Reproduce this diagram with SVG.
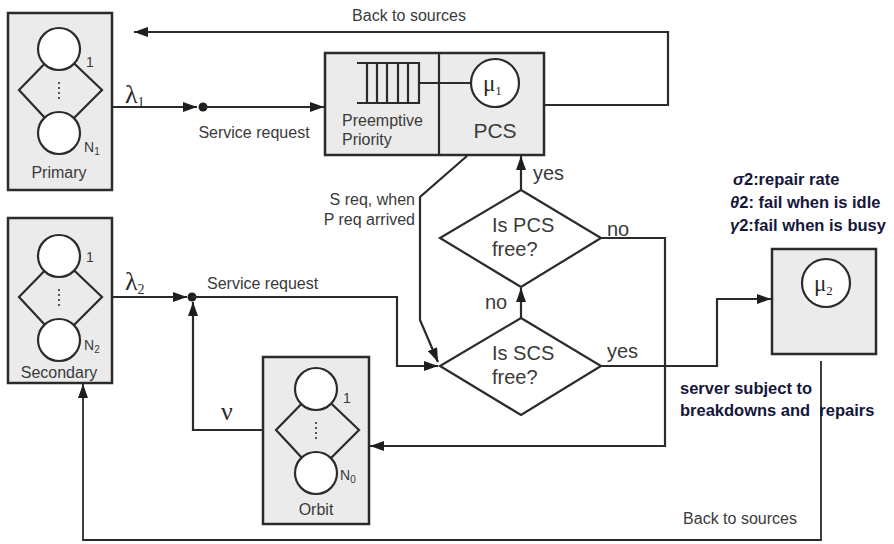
<svg xmlns="http://www.w3.org/2000/svg" width="894" height="544" viewBox="0 0 894 544">
  <defs>
    <style>
      .box { fill: #ebebeb; stroke: #2b2b2b; stroke-width: 2.5; }
      .ring { fill: #ffffff; stroke: #2b2b2b; stroke-width: 2.2; }
      .wire { fill: none; stroke: #2b2b2b; stroke-width: 2.2; }
      .thin { fill: none; stroke: #2b2b2b; stroke-width: 1.8; }
      .lbl { font-family: "Liberation Sans", Arial, sans-serif; fill: #3a3a3a; }
      .sm { font-size: 16px; }
      .md { font-size: 20px; }
      .greek { font-family: "Liberation Serif", "DejaVu Serif", serif; fill: #2b2b2b; }
      .note { font-family: "Liberation Sans", Arial, sans-serif; font-weight: bold; font-size: 16.5px; fill: #15173a; }
      .dots { stroke: #555; stroke-width: 2; stroke-dasharray: 2 3; }
    </style>
    <marker id="arr" viewBox="0 0 14 10" refX="14" refY="5" markerWidth="14" markerHeight="10" markerUnits="userSpaceOnUse" orient="auto">
      <path d="M0,0 L14,5 L0,10 z" fill="#1e1e1e"/>
    </marker>
    <!-- Population block: two customers joined by a diamond, with dots between -->
    <g id="pool">
      <path class="wire" d="M0,-41 L-40,0 L0,43 M0,-41 L43,0 L0,43"/>
      <circle class="ring" cx="0" cy="-41" r="21"/>
      <circle class="ring" cx="0" cy="43" r="21"/>
      <line class="dots" x1="0" y1="-8" x2="0" y2="12"/>
    </g>
  </defs>

  <rect width="894" height="544" fill="#ffffff"/>

  <!-- connectors -->
  <g id="connectors">
    <!-- primary arrivals -->
    <line class="wire" x1="112" y1="107" x2="197" y2="107" marker-end="url(#arr)"/>
    <circle cx="203" cy="107" r="4.5" fill="#1e1e1e"/>
    <line class="wire" x1="203" y1="107" x2="324" y2="107" marker-end="url(#arr)"/>
    <!-- PCS back to sources -->
    <polyline class="wire" points="544,105 668,105 668,32 134,32" marker-end="url(#arr)"/>
    <!-- secondary arrivals -->
    <line class="wire" x1="102" y1="297" x2="187" y2="297" marker-end="url(#arr)"/>
    <circle cx="192" cy="297" r="4.5" fill="#1e1e1e"/>
    <polyline class="wire" points="192,297 397,297 397,366 438,366" marker-end="url(#arr)"/>
    <!-- retrials from orbit -->
    <polyline class="wire" points="277,430 193,430 193,302" marker-end="url(#arr)"/>
    <!-- preempted S request -->
    <polyline class="wire" points="467,156 420,197 420,320 438,362" marker-end="url(#arr)"/>
    <!-- decision flow -->
    <line class="wire" x1="521" y1="318" x2="521" y2="288" marker-end="url(#arr)"/>
    <line class="wire" x1="521" y1="190" x2="521" y2="156" marker-end="url(#arr)"/>
    <polyline class="wire" points="601,238 665,238 665,446 370,446" marker-end="url(#arr)"/>
    <polyline class="wire" points="601,366 717,366 717,299 771,299" marker-end="url(#arr)"/>
    <!-- SCS back to sources -->
    <polyline class="thin" points="821,361 821,540 83,540 83,384" marker-end="url(#arr)"/>
  </g>

  <!-- primary sources -->
  <g id="primary">
    <rect class="box" x="8" y="13" width="104" height="177"/>
    <use href="#pool" x="59" y="90"/>
    <text class="lbl" x="86" y="67" font-size="14">1</text>
    <text class="lbl" x="84" y="152" font-size="14">N<tspan font-size="10" dy="3">1</tspan></text>
    <text class="lbl sm" x="59" y="178" text-anchor="middle">Primary</text>
  </g>

  <!-- secondary sources -->
  <g id="secondary">
    <rect class="box" x="8" y="218" width="104" height="165"/>
    <use href="#pool" x="59" y="297"/>
    <text class="lbl" x="86" y="262" font-size="14">1</text>
    <text class="lbl" x="84" y="350" font-size="14">N<tspan font-size="10" dy="3">2</tspan></text>
    <text class="lbl sm" x="59" y="378" text-anchor="middle">Secondary</text>
  </g>

  <!-- orbit -->
  <g id="orbit">
    <rect class="box" x="263" y="357" width="106" height="167"/>
    <use href="#pool" x="316" y="430"/>
    <text class="lbl" x="343" y="403" font-size="14">1</text>
    <text class="lbl" x="340" y="480" font-size="14">N<tspan font-size="10" dy="3">0</tspan></text>
    <text class="lbl sm" x="316" y="515" text-anchor="middle">Orbit</text>
  </g>

  <!-- primary service channel with preemptive queue -->
  <g id="pcs">
    <rect class="box" x="325" y="53" width="219" height="102"/>
    <line class="wire" x1="439" y1="53" x2="439" y2="155"/>
    <path class="wire" d="M357,63 H419 V103 H357 M367,63 V103 M377,63 V103 M387,63 V103 M398,63 V103 M408,63 V103"/>
    <line class="wire" x1="419" y1="83" x2="471" y2="83"/>
    <circle class="ring" cx="495" cy="83" r="24"/>
    <text class="greek" x="483" y="91" font-size="23">μ<tspan font-size="13" dy="4">1</tspan></text>
    <text class="lbl sm" x="342" y="126">Preemptive</text>
    <text class="lbl sm" x="342" y="145">Priority</text>
    <text class="lbl" x="495" y="138" font-size="21" text-anchor="middle">PCS</text>
  </g>

  <!-- secondary service channel -->
  <g id="scs">
    <rect class="box" x="772" y="249" width="104" height="105"/>
    <circle class="ring" cx="826" cy="283" r="24"/>
    <text class="greek" x="814" y="291" font-size="23">μ<tspan font-size="13" dy="4">2</tspan></text>
  </g>

  <!-- decisions -->
  <g id="pcs-free">
    <polygon class="wire" fill="#ffffff" points="521,190 601,238 521,287 440,238"/>
    <text class="lbl md" x="492" y="232">Is PCS</text>
    <text class="lbl md" x="492" y="256">free?</text>
  </g>
  <g id="scs-free">
    <polygon class="wire" fill="#ffffff" points="521,318 601,366 521,415 440,366"/>
    <text class="lbl md" x="492" y="360">Is SCS</text>
    <text class="lbl md" x="492" y="384">free?</text>
  </g>

  <!-- connector labels -->
  <g id="labels">
    <text class="lbl sm" x="409" y="21" text-anchor="middle">Back to sources</text>
    <text class="greek" x="125" y="103" font-size="26">λ<tspan font-size="14" dy="4">1</tspan></text>
    <text class="lbl sm" x="254" y="138" text-anchor="middle">Service request</text>
    <text class="greek" x="125" y="290" font-size="26">λ<tspan font-size="14" dy="4">2</tspan></text>
    <text class="lbl sm" x="207" y="289">Service request</text>
    <text class="greek" x="221" y="420" font-size="26">ν</text>
    <text class="lbl sm" x="415" y="205" text-anchor="end">S req, when</text>
    <text class="lbl sm" x="415" y="225" text-anchor="end">P req arrived</text>
    <text class="lbl md" x="533" y="180">yes</text>
    <text class="lbl md" x="607" y="236">no</text>
    <text class="lbl md" x="485" y="309">no</text>
    <text class="lbl md" x="607" y="358">yes</text>
    <text class="lbl sm" x="740" y="524" text-anchor="middle">Back to sources</text>
    <text class="note" x="733" y="185"><tspan font-style="italic">σ</tspan>2:repair rate</text>
    <text class="note" x="730" y="208"><tspan font-style="italic">θ</tspan>2: fail when is idle</text>
    <text class="note" x="730" y="231"><tspan font-style="italic">γ</tspan>2:fail when is busy</text>
    <text class="note" x="680" y="394">server subject to</text>
    <text class="note" x="680" y="416" xml:space="preserve">breakdowns and  repairs</text>
  </g>
</svg>
